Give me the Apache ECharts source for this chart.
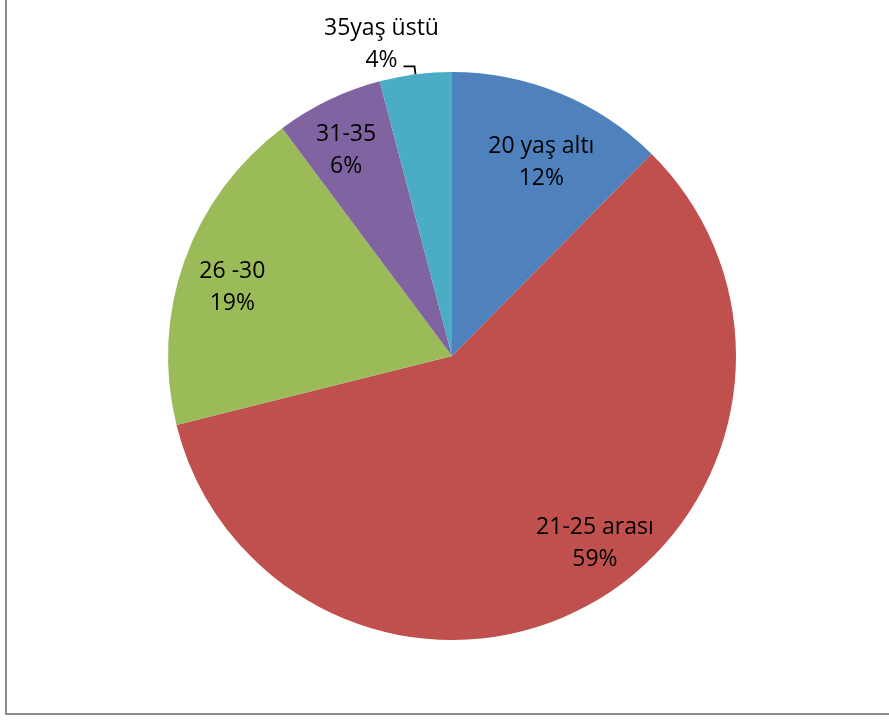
<!DOCTYPE html>
<html>
<head>
<meta charset="utf-8">
<title>Yaş dağılımı</title>
<script src="https://cdn.jsdelivr.net/npm/echarts@6/dist/echarts.min.js"></script>
<style>
  html, body { margin: 0; padding: 0; background: #ffffff; }
  #chart { width: 889px; height: 720px; }
</style>
</head>
<body>
<div id="chart"></div>
<script>
// Age groups and their shares (percent of respondents)
const categories = ['20 yaş altı', '21-25 arası', '26 -30', '31-35', '35yaş üstü'];
const shares = [12.4, 58.7, 18.7, 6.1, 4.1];

// Office-style palette, one colour per age group
const palette = ['#4F81BD', '#C0504D', '#9BBB59', '#8064A2', '#4BACC6'];

const FONT = '"Open Sans", "Noto Sans", sans-serif';
const PIE_CENTER = [452, 356];
const PIE_RADIUS = 284;
const LABEL_RADIUS = 227;           // distance of the in-slice labels from the centre
const OUTSIDE_INDEX = 4;            // the thin slice gets its label outside with a leader line

// small nudges for in-slice labels (pixels)
const labelNudge = [[2, 19], [29, -12], [-3, 9], [-6, 2], [0, 0]];

const labelText = {
  color: '#000',
  fontFamily: FONT,
  fontSize: 23,
  lineHeight: 32,
  formatter: '{b}\n{d}%'
};

const pieData = categories.map((name, i) => ({
  name: name,
  value: shares[i],
  itemStyle: { color: palette[i] }
}));

// transparent twin of the pie whose ring midpoint sits at LABEL_RADIUS, carrying the in-slice labels
const labelCarrier = categories.map((name, i) => ({
  name: name,
  value: shares[i],
  itemStyle: { color: 'rgba(0,0,0,0)' },
  label: i === OUTSIDE_INDEX ? { show: false } : { show: true, offset: labelNudge[i] }
}));

const chart = echarts.init(document.getElementById('chart'), null, { renderer: 'canvas' });

chart.setOption({
  backgroundColor: '#ffffff',
  animation: false,
  graphic: [{
    type: 'rect',
    silent: true,
    z: 100,
    shape: { x: 6, y: -10, width: 1000, height: 724 },
    style: { fill: 'none', stroke: '#8c8c8c', lineWidth: 2 }
  }],
  series: [
    {
      type: 'pie',
      center: PIE_CENTER,
      radius: [0, PIE_RADIUS],
      startAngle: 90,
      clockwise: true,
      silent: true,
      percentPrecision: 0,
      data: pieData.map((d, i) => Object.assign({}, d, {
        label: i === OUTSIDE_INDEX ? {
          show: true,
          position: 'outside',
          alignTo: 'none',
          distanceToLabelLine: 0
        } : { show: false },
        labelLine: i === OUTSIDE_INDEX ? {
          show: true, length: 8, length2: 11, smooth: false,
          lineStyle: { color: '#000', width: 1.8 }
        } : { show: false }
      })),
      label: Object.assign({}, labelText),
      labelLayout: function (p) {
        if (p.dataIndex !== OUTSIDE_INDEX || !p.labelLinePoints) return {};
        const end = p.labelLinePoints[2];
        return {
          x: end[0] - 22,
          y: end[1] - 22,
          align: 'center',
          verticalAlign: 'middle',
          labelLinePoints: p.labelLinePoints
        };
      }
    },
    {
      type: 'pie',
      center: PIE_CENTER,
      radius: [0, LABEL_RADIUS * 2],
      startAngle: 90,
      clockwise: true,
      silent: true,
      percentPrecision: 0,
      z: 3,
      data: labelCarrier,
      label: Object.assign({ position: 'inside' }, labelText),
      labelLine: { show: false },
      emphasis: { disabled: true }
    }
  ]
});
</script>
</body>
</html>
